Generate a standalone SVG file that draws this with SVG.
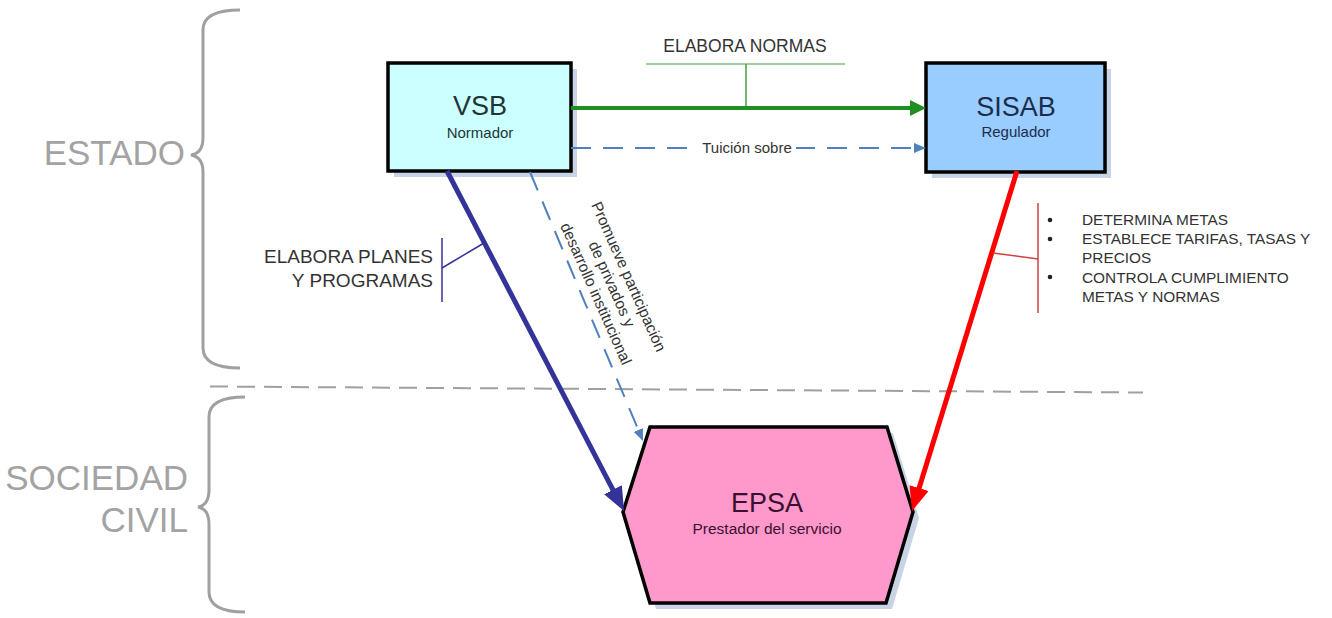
<svg xmlns="http://www.w3.org/2000/svg" width="1332" height="618" viewBox="0 0 1332 618">
<style>
.lbl{font-family:"Liberation Sans",Arial,sans-serif;fill:#333333}
.side{font-family:"Liberation Sans",Arial,sans-serif;fill:#a3a3a3;font-size:35px;text-anchor:end}
.title{font-family:"Liberation Sans",Arial,sans-serif;font-size:27px;text-anchor:middle}
.sub{font-family:"Liberation Sans",Arial,sans-serif;font-size:15px;text-anchor:middle}
.box{stroke:#000;stroke-width:3.5}
.shadow{fill:#c9d3e6}
.brace{fill:none;stroke:#a0a0a0;stroke-width:3}
</style>
<defs>
<marker id="mGreen" markerUnits="userSpaceOnUse" viewBox="0 0 16 16" refX="4" refY="8" markerWidth="16" markerHeight="16" orient="auto"><path d="M0,0 L16,8 L0,16 z" fill="#1f8f1f"/></marker>
<marker id="mDash" markerUnits="userSpaceOnUse" viewBox="0 0 12 10" refX="3" refY="5" markerWidth="12" markerHeight="10" orient="auto"><path d="M0,0 L12,5 L0,10 z" fill="#4f81bd"/></marker>
<marker id="mNavy" markerUnits="userSpaceOnUse" viewBox="0 0 24 20" refX="4" refY="10" markerWidth="24" markerHeight="20" orient="auto"><path d="M0,0 L24,10 L0,20 z" fill="#333399"/></marker>
<marker id="mRed" markerUnits="userSpaceOnUse" viewBox="0 0 24 20" refX="4" refY="10" markerWidth="24" markerHeight="20" orient="auto"><path d="M0,0 L24,10 L0,20 z" fill="#ff0000"/></marker>
</defs>
<rect width="1332" height="618" fill="#ffffff"/>

<!-- braces and side labels -->
<g id="estado">
<path class="brace" d="M240,10 Q203,10 203,30 L203,138 Q203,153 191,155 Q203,157 203,172 L203,348 Q203,368 240,368"/>
<text class="side" x="185" y="165">ESTADO</text>
</g>
<g id="sociedad">
<path class="brace" d="M245,397 Q209,397 209,417 L209,490 Q209,505 198,507 Q209,509 209,524 L209,592 Q209,612 245,612"/>
<text class="side" x="188" y="490">SOCIEDAD</text>
<text class="side" x="188" y="532">CIVIL</text>
</g>

<!-- separator -->
<line x1="210" y1="386.5" x2="1143" y2="392.5" stroke="#a0a0a0" stroke-width="2" stroke-dasharray="18,9"/>

<!-- nodes -->
<g id="vsb">
<rect class="shadow" x="394" y="69" width="183" height="108"/>
<rect class="box" x="388" y="63" width="183" height="108" fill="#ccffff"/>
<text class="title" x="480" y="115" fill="#1f3535">VSB</text>
<text class="sub" x="480" y="138" fill="#1f3535">Normador</text>
</g>
<g id="sisab">
<rect class="shadow" x="932" y="69" width="179" height="109"/>
<rect class="box" x="926" y="63" width="179" height="109" fill="#99ccff"/>
<text class="title" x="1016" y="116" fill="#1c2c4c">SISAB</text>
<text class="sub" x="1016" y="137" fill="#1c2c4c">Regulador</text>
</g>
<g id="epsa">
<polygon class="shadow" points="656,433 893,433 919,518 892,609 656,609 629,518"/>
<polygon class="box" points="650,427 887,427 913,512 886,603 650,603 623,512" fill="#ff99cc"/>
<text class="title" x="767" y="512" fill="#3a1030">EPSA</text>
<text class="sub" x="767" y="534" fill="#3a1030" style="font-size:15.5px">Prestador del servicio</text>
</g>

<!-- connectors -->
<g id="connectors">
<line x1="571" y1="108" x2="914" y2="108" stroke="#1f8f1f" stroke-width="4" marker-end="url(#mGreen)"/>
<line x1="571" y1="148" x2="917" y2="148" stroke="#4f81bd" stroke-width="2" stroke-dasharray="20,12" marker-end="url(#mDash)"/>
<line x1="447" y1="171" x2="614.8" y2="493.3" stroke="#333399" stroke-width="5" marker-end="url(#mNavy)"/>
<line x1="530" y1="172" x2="639.5" y2="432.7" stroke="#4f81bd" stroke-width="2" stroke-dasharray="20,12" marker-end="url(#mDash)"/>
<line x1="1017" y1="171" x2="917.9" y2="491.9" stroke="#ff0000" stroke-width="5" marker-end="url(#mRed)"/>
</g>

<!-- connector labels -->
<g id="label-normas">
<line x1="646" y1="64" x2="845" y2="64" stroke="#7fbf7f" stroke-width="1.5"/>
<line x1="746" y1="64" x2="746" y2="106" stroke="#3f9f3f" stroke-width="1.5"/>
<text class="lbl" x="745" y="52" text-anchor="middle" style="font-size:17.5px">ELABORA NORMAS</text>
</g>
<g id="label-tuicion">
<rect x="699" y="139" width="97" height="18" fill="#ffffff"/>
<text class="lbl" x="747" y="153" text-anchor="middle" style="font-size:15px">Tuición sobre</text>
</g>
<g id="label-planes">
<line x1="442" y1="238" x2="442" y2="302" stroke="#333399" stroke-width="1.5"/>
<line x1="442" y1="268" x2="484" y2="243" stroke="#333399" stroke-width="1.5"/>
<text class="lbl" x="433" y="263" text-anchor="end" style="font-size:19px">ELABORA PLANES</text>
<text class="lbl" x="433" y="287" text-anchor="end" style="font-size:19px">Y PROGRAMAS</text>
</g>
<g id="label-promueve">
<text class="lbl" transform="translate(613,286) rotate(66)" text-anchor="middle" style="font-size:15.5px">
<tspan x="0" y="-12.9">Promueve participación</tspan>
<tspan x="0" y="5.5">de privados y</tspan>
<tspan x="0" y="23.9">desarrollo institucional</tspan>
</text>
</g>
<g id="label-regulador">
<line x1="1038" y1="203" x2="1038" y2="313" stroke="#d04040" stroke-width="1.5"/>
<line x1="993" y1="253" x2="1038" y2="259" stroke="#d04040" stroke-width="1.5"/>
<g fill="#222">
<circle cx="1050" cy="220" r="2.3"/>
<circle cx="1050" cy="239" r="2.3"/>
<circle cx="1050" cy="277" r="2.3"/>
</g>
<text class="lbl" style="font-size:15.4px">
<tspan x="1082" y="225">DETERMINA METAS</tspan>
<tspan x="1082" y="244">ESTABLECE TARIFAS, TASAS Y</tspan>
<tspan x="1082" y="263">PRECIOS</tspan>
<tspan x="1082" y="283">CONTROLA CUMPLIMIENTO</tspan>
<tspan x="1082" y="302">METAS Y NORMAS</tspan>
</text>
</g>
</svg>
